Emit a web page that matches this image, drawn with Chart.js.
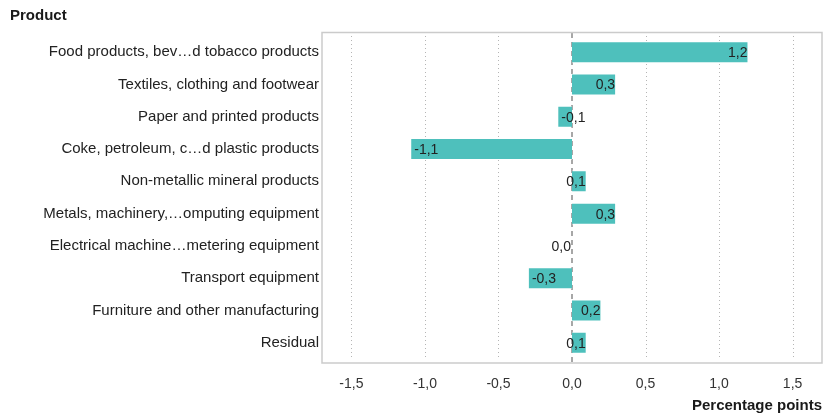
<!DOCTYPE html>
<html>
<head>
<meta charset="utf-8">
<script src="https://cdn.jsdelivr.net/npm/chart.js@4"></script>
<style>
  html, body { margin: 0; padding: 0; background: #fff; }
  #wrap { width: 826px; height: 419px; }
</style>
</head>
<body>
<div id="wrap"><canvas id="chart"></canvas></div>
<script>
// Kategorier og verdier (prosentpoeng)
const products = [
  'Food products, bev\u2026d tobacco products',
  'Textiles, clothing and footwear',
  'Paper and printed products',
  'Coke, petroleum, c\u2026d plastic products',
  'Non-metallic mineral products',
  'Metals, machinery,\u2026omputing equipment',
  'Electrical machine\u2026metering equipment',
  'Transport equipment',
  'Furniture and other manufacturing',
  'Residual'
];
const contributions = [1.2, 0.3, -0.1, -1.1, 0.1, 0.3, 0.0, -0.3, 0.2, 0.1];
const xTicks = [-1.5, -1.0, -0.5, 0.0, 0.5, 1.0, 1.5];

const FONT = 'Liberation Sans, Arial, sans-serif';

function comma(v) {
  return v.toFixed(1).replace('.', ',');
}

// Rutenett, ramme og nullinje
const backdrop = {
  id: 'backdrop',
  beforeDatasetsDraw(chart) {
    const { ctx, chartArea: a, scales: { x } } = chart;
    ctx.save();
    ctx.lineWidth = 1;
    ctx.strokeStyle = '#b5b5b5';
    ctx.setLineDash([1, 3]);
    xTicks.forEach(t => {
      if (t === 0) return;
      const px = Math.round(x.getPixelForValue(t)) + 0.5;
      ctx.beginPath();
      ctx.moveTo(px, a.top);
      ctx.lineTo(px, a.bottom);
      ctx.stroke();
    });
    ctx.setLineDash([5, 4]);
    ctx.strokeStyle = '#8a8a8a';
    ctx.lineWidth = 1.5;
    const zx = x.getPixelForValue(0);
    ctx.beginPath();
    ctx.moveTo(zx, a.top - 3);
    ctx.lineTo(zx, a.bottom + 3);
    ctx.stroke();
    ctx.setLineDash([]);
    ctx.strokeStyle = '#cbcbcb';
    ctx.lineWidth = 1.5;
    ctx.strokeRect(a.left, a.top - 3.5, a.right - a.left, a.bottom - a.top + 7.5);
    ctx.restore();
  },
  afterDraw(chart) {
    const { ctx } = chart;
    ctx.save();
    ctx.fillStyle = '#1a1a1a';
    ctx.font = 'bold 15px ' + FONT;
    ctx.textAlign = 'left';
    ctx.textBaseline = 'middle';
    ctx.fillText('Product', 10, 16);
    ctx.restore();
  }
};

// Verdietiketter ved enden av stolpene
const valueLabels = {
  id: 'valueLabels',
  afterDatasetsDraw(chart) {
    const { ctx } = chart;
    const meta = chart.getDatasetMeta(0);
    ctx.save();
    ctx.font = '14px ' + FONT;
    ctx.fillStyle = '#222';
    ctx.textBaseline = 'middle';
    meta.data.forEach((bar, i) => {
      const v = contributions[i];
      if (v >= 0) {
        ctx.textAlign = 'right';
        ctx.fillText(comma(v), bar.x - 1, bar.y + 1);
      } else {
        ctx.textAlign = 'left';
        ctx.fillText(comma(v), bar.x + 4, bar.y + 1);
      }
    });
    ctx.restore();
  }
};

new Chart(document.getElementById('chart'), {
  type: 'bar',
  data: {
    labels: products,
    datasets: [{
      data: contributions,
      backgroundColor: '#4ec0bc',
      borderColor: 'rgba(255,255,255,0.55)',
      borderWidth: 1,
      categoryPercentage: 1,
      barPercentage: 0.68
    }]
  },
  options: {
    indexAxis: 'y',
    responsive: true,
    maintainAspectRatio: false,
    animation: false,
    layout: { padding: { top: 36, right: 4, bottom: 0, left: 0 } },
    plugins: { legend: { display: false }, tooltip: { enabled: false } },
    scales: {
      x: {
        min: -1.7,
        max: 1.7,
        grid: { display: false, drawTicks: false },
        border: { display: false },
        ticks: {
          stepSize: 0.5,
          includeBounds: false,
          padding: 17,
          color: '#333',
          font: { family: FONT, size: 14 },
          callback: v => comma(v)
        },
        title: {
          display: true,
          text: 'Percentage points',
          align: 'end',
          color: '#1a1a1a',
          font: { family: FONT, size: 15, weight: 'bold' },
          padding: { top: 0, bottom: 4 }
        },
        afterFit(scale) { scale.height = 60; }
      },
      y: {
        grid: { display: false, drawTicks: false },
        border: { display: false },
        ticks: {
          padding: 3,
          color: '#222',
          font: { family: FONT, size: 15, lineHeight: 1.45 }
        },
        afterFit(scale) { scale.width = 322; }
      }
    }
  },
  plugins: [backdrop, valueLabels]
});
</script>
</body>
</html>
